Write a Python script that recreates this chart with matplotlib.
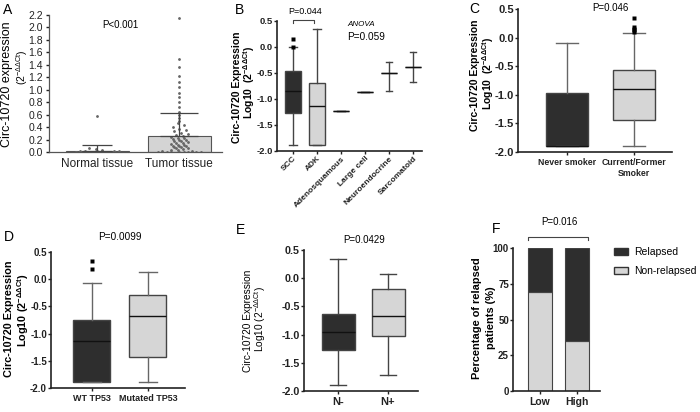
#importing packages
import numpy as np
import matplotlib.pyplot as plt
from matplotlib.patches import Patch

plt.rcParams['font.family'] = ['Liberation Sans', 'DejaVu Sans']
plt.rcParams['mathtext.fontset'] = 'custom'
plt.rcParams['mathtext.rm'] = 'Liberation Sans'
plt.rcParams['mathtext.it'] = 'Liberation Sans:italic'
plt.rcParams['mathtext.bf'] = 'Liberation Sans:bold'

#data
# A - bar + dots
a_groups = ['Normal tissue', 'Tumor tissue']
a_means = [0.02, 0.25]
a_sd = [0.10, 0.37]
a_yticks = [0.0, 0.2, 0.4, 0.6, 0.8, 1.0, 1.2, 1.4, 1.6, 1.8, 2.0, 2.2]
normal_vals = [0.0, 0.0, 0.0, 0.0, 0.0, 0.0, 0.0, 0.0, 0.0, 0.0, 0.0, 0.0,
               0.0, 0.0, 0.01, 0.01, 0.01, 0.01, 0.02, 0.02, 0.03, 0.05, 0.07, 0.58]
tumor_vals = [0.0, 0.0, 0.0, 0.0, 0.0, 0.0, 0.0, 0.0, 0.01, 0.02, 0.03, 0.04,
              0.05, 0.06, 0.07, 0.08, 0.08, 0.09, 0.1, 0.1, 0.11, 0.12, 0.13,
              0.14, 0.15, 0.16, 0.17, 0.18, 0.19, 0.2, 0.21, 0.22, 0.23, 0.24,
              0.26, 0.27, 0.29, 0.31, 0.33, 0.35, 0.37, 0.4, 0.43, 0.46, 0.5,
              0.55, 0.6, 0.65, 0.72, 0.8, 0.88, 0.95, 1.05, 1.12, 1.22, 1.37,
              1.5, 2.15]

# B - histology
b_groups = ['SCC', 'ADK', 'Adenosquamous', 'Large cell', 'Neuroendocrine', 'Sarcomatoid']
b_q1 = [-1.27, -1.88, -1.23, -0.86, -0.50, -0.38]
b_med = [-0.85, -1.13, -1.23, -0.86, -0.50, -0.38]
b_q3 = [-0.46, -0.69, -1.23, -0.86, -0.50, -0.38]
b_lo = [-1.88, -1.88, -1.23, -0.86, -0.85, -0.67]
b_hi = [0.0, 0.35, -1.23, -0.86, -0.29, -0.09]
b_fliers = [[0.0, 0.15], [], [], [], [], []]

# C - smoking
c_groups = ['Never smoker', 'Current/Former\nSmoker']
c_q1 = [-1.89, -1.44]
c_med = [-1.89, -0.90]
c_q3 = [-0.97, -0.57]
c_lo = [-1.89, -1.89]
c_hi = [-0.09, 0.08]
c_fliers = [[], [0.34, 0.19, 0.15, 0.14, 0.10]]

# D - TP53
d_groups = ['WT TP53', 'Mutated TP53']
d_q1 = [-1.89, -1.43]
d_med = [-1.14, -0.68]
d_q3 = [-0.75, -0.29]
d_lo = [-1.89, -1.89]
d_hi = [-0.07, 0.13]
d_fliers = [[0.33, 0.18], []]

# E - nodes
e_groups = ['N-', 'N+']
e_q1 = [-1.27, -1.03]
e_med = [-0.95, -0.67]
e_q3 = [-0.63, -0.19]
e_lo = [-1.89, -1.72]
e_hi = [0.34, 0.08]

log_ticks = [0.5, 0.0, -0.5, -1.0, -1.5, -2.0]

# F - relapse
f_groups = ['Low', 'High']
f_nonrel = [69, 35]
f_rel = [31, 65]
f_ticks = [0, 25, 50, 75, 100]

DARK = '#2e2e2e'
LIGHT = '#d6d6d6'
W, H = 700, 412

fig = plt.figure(figsize=(7, 4.12), dpi=100)


def px_axes(l, t, r, b):
    return fig.add_axes([l / W, 1 - b / H, (r - l) / W, (b - t) / H])


def ftext(x, y, s, **kw):
    kw.setdefault('ha', 'center')
    kw.setdefault('va', 'center')
    return fig.text(x / W, 1 - y / H, s, **kw)


def ylab(xbase, ymid, s, **kw):
    # rotated label line, anchored on its baseline
    return fig.text(xbase / W, 1 - ymid / H, s, rotation=90, rotation_mode='anchor',
                    ha='center', va='baseline', **kw)


def style(ax, size, pad=0.4):
    for s in ['top', 'right']:
        ax.spines[s].set_visible(False)
    for s in ['left', 'bottom']:
        ax.spines[s].set_linewidth(1.2)
        ax.spines[s].set_color('#222222')
    ax.tick_params(length=2.5, width=1, labelsize=size, pad=pad, colors='#222222')


def set_log_yticks(ax, size):
    ax.set_ylim(-2.0, 0.5)
    ax.set_yticks(log_ticks)
    ax.set_yticklabels(['%.1f' % t for t in log_ticks], fontsize=size, fontweight='bold')


def boxes(ax, q1, med, q3, lo, hi, fliers, fills, width, capw, wcol='#555555'):
    stats = [dict(q1=a, med=m, q3=b, whislo=l, whishi=h, fliers=f)
             for a, m, b, l, h, f in zip(q1, med, q3, lo, hi, fliers)]
    bp = ax.bxp(stats, positions=range(len(stats)), widths=width, capwidths=capw,
                patch_artist=True, manage_ticks=False,
                boxprops=dict(linewidth=1.0, edgecolor='#444444'),
                whiskerprops=dict(linewidth=1.0, color=wcol),
                capprops=dict(linewidth=1.0, color=wcol),
                medianprops=dict(linewidth=1.0, color='#111111'),
                flierprops=dict(marker='s', markersize=2.6, markerfacecolor='black',
                                markeredgecolor='none'))
    for patch, fc in zip(bp['boxes'], fills):
        patch.set_facecolor(fc)
    return bp


# ---------- A ----------
axA = px_axes(49, 15, 222, 152)
style(axA, 7.5, pad=2)
axA.spines['left'].set_color('#555555')
axA.spines['bottom'].set_color('#555555')
axA.spines['left'].set_linewidth(0.9)
axA.spines['bottom'].set_linewidth(0.9)
axA.bar([0, 1], a_means, width=0.76, color='#d4d4d4', edgecolor='#555555',
        linewidth=0.8, zorder=1)
for pos, vals in zip([0, 1], [normal_vals, tumor_vals]):
    xs = []
    for i, v in enumerate(vals):
        spread = 0.26 if v < 0.03 else (0.1 if v < 0.5 else 0.0)
        xs.append(pos + spread * (((i * 7) % 11) - 5) / 5.0)
    axA.plot(xs, vals, ls='none', marker='.', ms=2, color='#666666', zorder=2)
axA.errorbar([0], [a_means[0]], yerr=[[0], [a_sd[0]]], fmt='none', ecolor='#444444',
             elinewidth=0.9, capsize=11, capthick=0.9, zorder=3)
axA.errorbar([1], [a_means[1]], yerr=[[0], [a_sd[1]]], fmt='none', ecolor='#444444',
             elinewidth=0.9, capsize=13.5, capthick=0.9, zorder=3)
axA.set_xlim(-0.59, 1.52)
axA.set_ylim(0, 2.2)
axA.set_yticks(a_yticks)
axA.set_yticklabels(['%.1f' % t for t in a_yticks], fontsize=7.5)
axA.set_xticks([0, 1])
axA.set_xticklabels(a_groups, fontsize=8.5)
axA.tick_params(axis='x', length=0, pad=4)
ftext(120, 25, 'P<0.001', fontsize=7)
ylab(10.5, 84, 'Circ-10720 expression', fontsize=9)
ylab(25.5, 67, r'(2$^{-\Delta\Delta \mathrm{Ct}}$)', fontsize=7.5)
ftext(3, 3, 'A', ha='left', va='top', fontsize=10)

# ---------- B ----------
axB = px_axes(277, 21, 422, 151)
style(axB, 7)
boxes(axB, b_q1, b_med, b_q3, b_lo, b_hi, b_fliers,
      [DARK, LIGHT, 'none', 'none', 'none', 'none'], 0.67,
      [0.35, 0.35, 0.35, 0.35, 0.27, 0.27], wcol='#444444')
axB.set_xlim(-0.67, 5.37)
set_log_yticks(axB, 6.8)
axB.set_xticks(range(len(b_groups)))
axB.set_xticklabels(b_groups, rotation=45, ha='right', rotation_mode='anchor',
                    fontsize=6, fontweight='bold')
axB.plot([0, 0, 0.87, 0.87], [0.46, 0.52, 0.52, 0.46], color='#444444', lw=0.8,
         clip_on=False)
ftext(305, 12, 'P=0.044', fontsize=6.5)
ftext(347, 25, 'ANOVA', ha='left', fontsize=5.8, style='italic')
ftext(347, 37, 'P=0.059', ha='left', fontsize=7.2)
ylab(239.5, 87, 'Circ-10720 Expression', fontsize=7.5, fontweight='bold')
ylab(253, 82, r'Log10  (2$^{\mathbf{-\Delta\Delta Ct}}$)', fontsize=7.5, fontweight='bold')
ftext(235, 3, 'B', ha='left', va='top', fontsize=10)

# ---------- C ----------
axC = px_axes(518, 9, 672, 152)
style(axC, 8)
boxes(axC, c_q1, c_med, c_q3, c_lo, c_hi, c_fliers, [DARK, LIGHT], 0.63, 0.32,
      wcol='#666666')
axC.set_xlim(-0.73, 1.57)
set_log_yticks(axC, 8)
axC.set_xticks([0, 1])
axC.set_xticklabels(c_groups, fontsize=6.3, fontweight='bold', va='top')
axC.tick_params(axis='x', pad=2)
ftext(610, 8, 'P=0.046', fontsize=7)
ylab(478, 75, 'Circ-10720 Expression', fontsize=7.5, fontweight='bold')
ylab(492, 73, r'Log10  (2$^{\mathbf{-\Delta\Delta Ct}}$)', fontsize=7.5, fontweight='bold')
ftext(469, 2, 'C', ha='left', va='top', fontsize=10)

# ---------- D ----------
axD = px_axes(51, 252, 185, 388)
style(axD, 7)
boxes(axD, d_q1, d_med, d_q3, d_lo, d_hi, d_fliers, [DARK, LIGHT], 0.66, 0.33,
      wcol='#666666')
axD.set_xlim(-0.73, 1.66)
set_log_yticks(axD, 7)
axD.set_xticks([0, 1])
axD.set_xticklabels(d_groups, fontsize=6.5, fontweight='bold')
axD.tick_params(axis='x', pad=2)
ftext(120, 237, 'P=0.0099', fontsize=7.2)
ylab(12, 319, 'Circ-10720 Expression', fontsize=7.8, fontweight='bold')
ylab(27, 310, r'Log10 (2$^{\mathbf{-\Delta\Delta Ct}}$)', fontsize=7.8, fontweight='bold')
ftext(4, 230, 'D', ha='left', va='top', fontsize=10)

# ---------- E ----------
axE = px_axes(304, 250, 418, 391)
style(axE, 7.7)
boxes(axE, e_q1, e_med, e_q3, e_lo, e_hi, [[], []], [DARK, LIGHT], 0.66, 0.33,
      wcol='#444444')
axE.set_xlim(-0.68, 1.6)
set_log_yticks(axE, 7.7)
axE.set_xticks([0, 1])
axE.set_xticklabels(e_groups, fontsize=8, fontweight='bold')
axE.tick_params(axis='x', pad=2)
ftext(364, 240, 'P=0.0429', fontsize=7)
ylab(251.5, 321, 'Circ-10720 Expression', fontsize=7.3)
ylab(264, 319, r'Log10 (2$^{-\Delta\Delta \mathrm{Ct}}$)', fontsize=7.3)
ftext(236, 223, 'E', ha='left', va='top', fontsize=10)

# ---------- F ----------
axF = px_axes(513, 248, 600, 391)
style(axF, 7)
axF.bar([0, 1], f_nonrel, width=0.65, color=LIGHT, edgecolor='#444444', linewidth=0.8,
        label='Non-relapsed')
axF.bar([0, 1], f_rel, bottom=f_nonrel, width=0.65, color=DARK, edgecolor='#444444',
        linewidth=0.8, label='Relapsed')
axF.set_xlim(-0.73, 1.62)
axF.set_ylim(0, 100)
axF.set_yticks(f_ticks)
axF.set_yticklabels([str(t) for t in f_ticks], fontsize=7, fontweight='bold')
axF.set_xticks([0, 1])
axF.set_xticklabels(f_groups, fontsize=7.5, fontweight='bold')
axF.tick_params(axis='x', pad=2)
axF.plot([-0.32, -0.32, 1.3, 1.3], [105.6, 107.7, 107.7, 105.6], color='#444444',
         lw=0.8, clip_on=False)
ftext(559, 222, 'P=0.016', fontsize=7)
ylab(480.5, 318, 'Percentage of relapsed', fontsize=7.9, fontweight='bold')
ylab(494, 318, 'patients (%)', fontsize=7.9, fontweight='bold')
ftext(492, 222, 'F', ha='left', va='top', fontsize=10)
handles = [Patch(facecolor=DARK, edgecolor='#333333', label='Relapsed'),
           Patch(facecolor=LIGHT, edgecolor='#333333', label='Non-relapsed')]
axF.legend(handles=handles, loc='upper left', bbox_to_anchor=(614 / W, 1 - 247 / H),
           bbox_transform=fig.transFigure, frameon=False, fontsize=7.5,
           handlelength=1.3, handleheight=0.6, handletextpad=0.6, labelspacing=0.9,
           borderpad=0, borderaxespad=0)

plt.savefig('out.png', dpi=100)
